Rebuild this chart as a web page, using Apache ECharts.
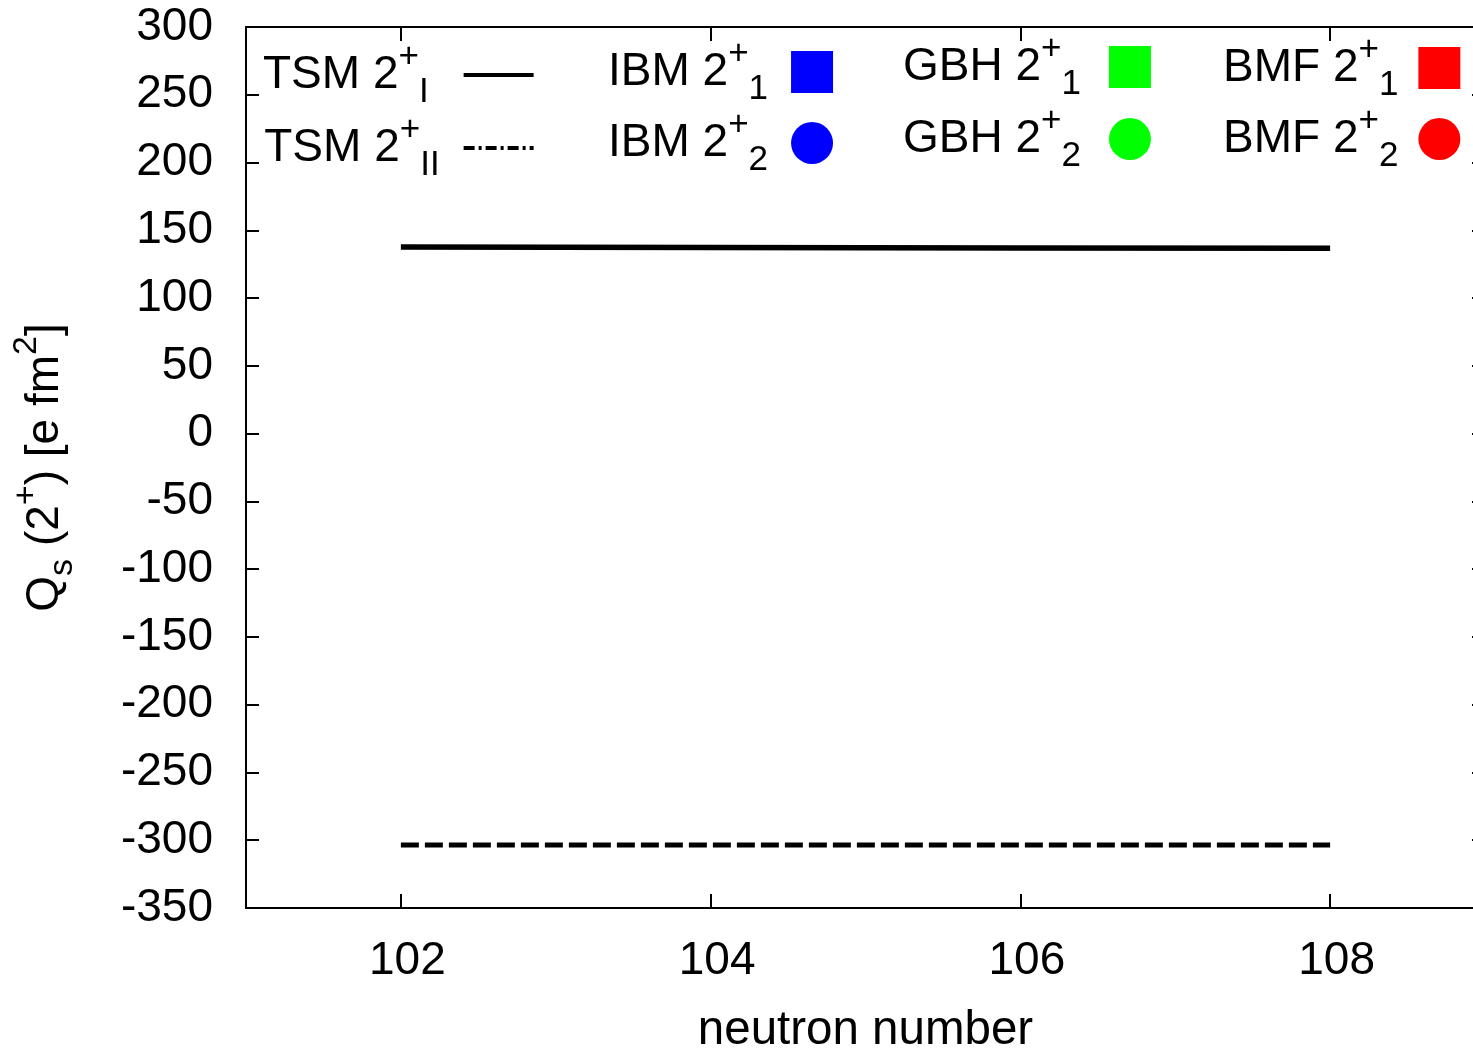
<!DOCTYPE html>
<html>
<head>
<meta charset="utf-8">
<script src="https://cdn.jsdelivr.net/npm/echarts@6/dist/echarts.min.js"></script>
<style>
html,body{margin:0;padding:0;background:#fff;}
#chart{width:1473px;height:1049px;}
</style>
</head>
<body>
<div id="chart"></div>
<script>
// ---- data ----
const neutronNumbers = [102, 104, 106, 108];
const tsm2I  = [137.6, 137.3, 137.0, 136.8];
const tsm2II = [-303.5, -303.5, -303.5, -303.5];
const ibm21 = [];
const ibm22 = [];
const gbh21 = [];
const gbh22 = [];
const bmf21 = [];
const bmf22 = [];
const xTickValues = [102, 104, 106, 108];
const yMin = -350, yMax = 300, yStep = 50;
const xMin = 101, xMax = 109;

const FONT = '"Liberation Sans", Arial, Helvetica, sans-serif';
const zip = (xs, ys) => ys.map((y, i) => [xs[i], y]);

const legendLabels = {
  'TSM 2+ I':  '{m|TSM 2}{supT|+}{subT1|I}',
  'TSM 2+ II': '{m|TSM 2}{supT|+}{subT2|II}',
  'IBM 2+ 1':  '{m|IBM 2}{sup|+}{sub|1}',
  'IBM 2+ 2':  '{m|IBM 2}{sup|+}{sub|2}',
  'GBH 2+ 1':  '{m|GBH 2}{sup|+}{subG|1}',
  'GBH 2+ 2':  '{m|GBH 2}{sup|+}{subG|2}',
  'BMF 2+ 1':  '{m|BMF 2}{sup|+}{subB|1}',
  'BMF 2+ 2':  '{m|BMF 2}{sup|+}{subB|2}'
};

const rich = {
  m:    {fontFamily: FONT, fontSize: 46, lineHeight: 70, color: '#000'},
  supT: {fontFamily: FONT, fontSize: 35, lineHeight: 30, verticalAlign: 'top', color: '#000'},
  subT1:{fontFamily: FONT, fontSize: 35, lineHeight: 42, verticalAlign: 'bottom', color: '#000', padding: [0, 30, 0, 0]},
  subT2:{fontFamily: FONT, fontSize: 35, lineHeight: 40, verticalAlign: 'bottom', color: '#000', padding: [0, 19, 0, 0]},
  sup:  {fontFamily: FONT, fontSize: 35, lineHeight: 46, verticalAlign: 'top', color: '#000'},
  sub:  {fontFamily: FONT, fontSize: 35, lineHeight: 30, verticalAlign: 'bottom', color: '#000', padding: [0, 18, 0, 0]},
  subG: {fontFamily: FONT, fontSize: 35, lineHeight: 30, verticalAlign: 'bottom', color: '#000', padding: [0, 23, 0, 0]},
  subB: {fontFamily: FONT, fontSize: 35, lineHeight: 30, verticalAlign: 'bottom', color: '#000', padding: [0, 15, 0, 0]}
};

function makeLegend(names, left, top, gap, w, h) {
  return {
    orient: 'vertical',
    left: left, top: top,
    padding: 0,
    itemGap: gap,
    itemWidth: w, itemHeight: h,
    align: 'right',
    selectedMode: false,
    data: names,
    formatter: n => legendLabels[n],
    textStyle: {fontFamily: FONT, fontSize: 46, color: '#000', rich: rich}
  };
}

const hiddenSymbol = {color: 'rgba(0,0,0,0)', borderWidth: 0, opacity: 0};

const option = {
  backgroundColor: '#fff',
  animation: false,
  grid: {left: 246, top: 27, right: -12, bottom: 141, containLabel: false, outerBoundsMode: 'none'},
  legend: [
    makeLegend([
      {name: 'TSM 2+ I', lineStyle: {width: 4, type: 'solid'}, itemStyle: hiddenSymbol},
      {name: 'TSM 2+ II', lineStyle: {width: 4, type: [11, 4, 3, 4]}, itemStyle: hiddenSymbol}
    ], 263, 40, 3, 70, 14),
    makeLegend(['IBM 2+ 1', 'IBM 2+ 2'], 608, 37, 1, 42, 42),
    makeLegend(['GBH 2+ 1', 'GBH 2+ 2'], 903, 32, 2, 42, 42),
    makeLegend(['BMF 2+ 1', 'BMF 2+ 2'], 1223, 33, 1, 42, 42)
  ],
  xAxis: [{
    type: 'value', position: 'bottom', min: xMin, max: xMax,
    name: 'neutron number', nameLocation: 'middle', nameGap: 99,
    nameTextStyle: {fontFamily: FONT, fontSize: 47.5, color: '#000'},
    axisLine: {show: true, onZero: false, lineStyle: {color: '#000', width: 2}},
    axisTick: {show: true, inside: true, length: 14, customValues: xTickValues, lineStyle: {color: '#000', width: 2}},
    axisLabel: {show: true, customValues: xTickValues, margin: 30, fontFamily: FONT, fontSize: 46, color: '#000', padding: [0, 0, 0, 13]},
    splitLine: {show: false}
  }, {
    type: 'value', position: 'top', min: xMin, max: xMax,
    axisLine: {show: true, onZero: false, lineStyle: {color: '#000', width: 2}},
    axisTick: {show: true, inside: true, length: 14, customValues: xTickValues, lineStyle: {color: '#000', width: 2}},
    axisLabel: {show: false},
    splitLine: {show: false}
  }],
  yAxis: [{
    type: 'value', position: 'left', min: yMin, max: yMax, interval: yStep,
    name: '{m|Q}{sub|s}{m| (2}{sup|+}{m|) [e fm}{sup|2}{m|]}',
    nameLocation: 'middle', nameRotate: 90, nameGap: 166,
    nameTextStyle: {fontFamily: FONT, fontSize: 46, color: '#000', rich: {
      m:   {fontFamily: FONT, fontSize: 46, lineHeight: 70, color: '#000'},
      sup: {fontFamily: FONT, fontSize: 34, lineHeight: 34, verticalAlign: 'top', color: '#000'},
      sub: {fontFamily: FONT, fontSize: 34, lineHeight: 34, verticalAlign: 'bottom', color: '#000'}
    }},
    axisLine: {show: true, onZero: false, lineStyle: {color: '#000', width: 2}},
    axisTick: {show: true, inside: true, length: 13, lineStyle: {color: '#000', width: 2}},
    axisLabel: {show: true, margin: 33, fontFamily: FONT, fontSize: 46, color: '#000'},
    splitLine: {show: false}
  }, {
    type: 'value', position: 'right', min: yMin, max: yMax, interval: yStep,
    axisLine: {show: true, onZero: false, lineStyle: {color: '#000', width: 2}},
    axisTick: {show: true, inside: true, length: 13, lineStyle: {color: '#000', width: 2}},
    axisLabel: {show: false},
    splitLine: {show: false}
  }],
  series: [
    {name: 'TSM 2+ I', type: 'line', data: zip(neutronNumbers, tsm2I), symbol: 'none', showSymbol: false,
     lineStyle: {color: '#000', width: 5.5, type: 'solid'}, itemStyle: {color: '#000'}},
    {name: 'TSM 2+ II', type: 'line', data: zip(neutronNumbers, tsm2II), symbol: 'none', showSymbol: false,
     lineStyle: {color: '#000', width: 5, type: [18, 6]}, itemStyle: {color: '#000'}},
    {name: 'IBM 2+ 1', type: 'scatter', data: ibm21, symbol: 'rect', itemStyle: {color: '#0000ff', opacity: 1}},
    {name: 'IBM 2+ 2', type: 'scatter', data: ibm22, symbol: 'circle', itemStyle: {color: '#0000ff', opacity: 1}},
    {name: 'GBH 2+ 1', type: 'scatter', data: gbh21, symbol: 'rect', itemStyle: {color: '#00ff00', opacity: 1}},
    {name: 'GBH 2+ 2', type: 'scatter', data: gbh22, symbol: 'circle', itemStyle: {color: '#00ff00', opacity: 1}},
    {name: 'BMF 2+ 1', type: 'scatter', data: bmf21, symbol: 'rect', itemStyle: {color: '#ff0000', opacity: 1}},
    {name: 'BMF 2+ 2', type: 'scatter', data: bmf22, symbol: 'circle', itemStyle: {color: '#ff0000', opacity: 1}}
  ]
};

const chart = echarts.init(document.getElementById('chart'), null, {renderer: 'canvas'});
chart.setOption(option);
</script>
</body>
</html>
